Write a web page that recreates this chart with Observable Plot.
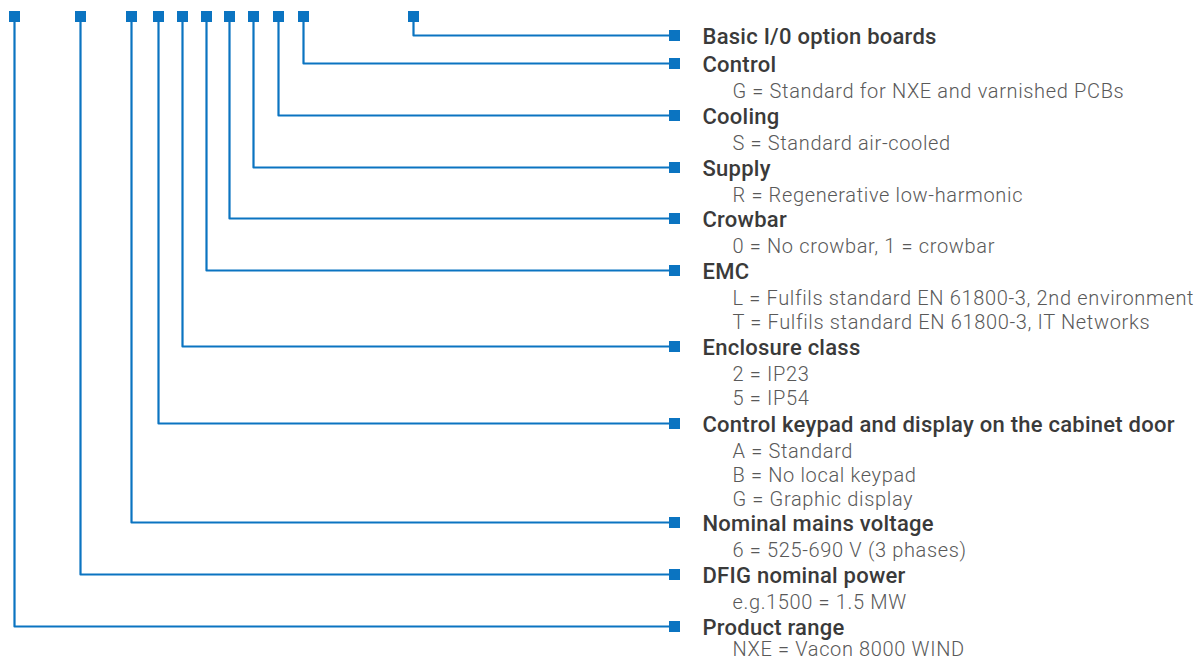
<!DOCTYPE html>
<html><head><meta charset="utf-8">
<script src="https://cdn.jsdelivr.net/npm/d3@7"></script>
<script src="https://cdn.jsdelivr.net/npm/@observablehq/plot@0.6"></script>
<style>
body{margin:0;background:#fff;} svg{display:block;}
.heads text{letter-spacing:0.25px;}
.opts text{letter-spacing:0.65px;}
</style>
</head><body><div id="chart"></div>
<script>
// Fields of the type code, top to bottom in the legend
const fields = ["Basic I/0 option boards","Control","Cooling","Supply","Crowbar","EMC","Enclosure class","Control keypad and display on the cabinet door","Nominal mains voltage","DFIG nominal power","Product range"];
// Position of each field's code character along the code (px along top row)
const codeX = [413, 303, 278, 253, 229, 206, 182, 158, 131, 80, 14];
// Vertical position of each field's legend row
const rowY = [35, 63, 115, 167, 218, 270, 346, 423, 522, 574, 626];
// Option descriptions and their rows
const optText = ["G = Standard for NXE and varnished PCBs","S = Standard air-cooled","R = Regenerative low-harmonic","0 = No crowbar, 1 = crowbar","L = Fulfils standard EN 61800-3, 2nd environment","T = Fulfils standard EN 61800-3, IT Networks","2 = IP23","5 = IP54","A = Standard","B = No local keypad","G = Graphic display","6 = 525-690 V (3 phases)","e.g.1500 = 1.5 MW","NXE = Vacon 8000 WIND"];
const optY = [91,143,195,246,298,322,374,398,451,475,499,550,602,649];

const topY = 16, endX = 674, labelX = 702, optX = 732;
const blue = "#0b74c1";

const path = [];
fields.forEach((f,i)=>{
  path.push({f, x: codeX[i], y: topY});
  path.push({f, x: codeX[i], y: rowY[i]});
  path.push({f, x: endX, y: rowY[i]});
});
const tops = fields.map((f,i)=>({f, x: codeX[i], y: topY}));
const ends = fields.map((f,i)=>({f, x: endX, y: rowY[i]}));
const opts = optText.map((t,i)=>({t, y: optY[i]}));

const chart = Plot.plot({
  width: 1202, height: 661,
  margin: 0,
  x: {domain: [0, 1202], axis: null},
  y: {domain: [0, 661], reverse: true, axis: null},
  style: {background: "#fff"},
  marks: [
    Plot.line(path, {x: "x", y: "y", z: "f", stroke: blue, strokeWidth: 2.2, curve: "linear"}),
    Plot.dot(tops, {x: "x", y: "y", symbol: "square", r: 6.2, fill: blue, stroke: null}),
    Plot.dot(ends, {x: "x", y: "y", symbol: "square", r: 6.2, fill: blue, stroke: null}),
    Plot.text(ends, {x: () => labelX, y: "y", dy: 1, text: "f", textAnchor: "start", fontSize: 22, fontWeight: 500, fill: "#3a3a3a", fontFamily: "Roboto, sans-serif", className: "heads"}),
    Plot.text(opts, {x: () => optX, y: "y", text: "t", textAnchor: "start", fontSize: 20, fontWeight: 300, fill: "#595959", fontFamily: "Roboto, sans-serif", className: "opts"})
  ]
});
document.getElementById("chart").appendChild(chart);
</script></body></html>
